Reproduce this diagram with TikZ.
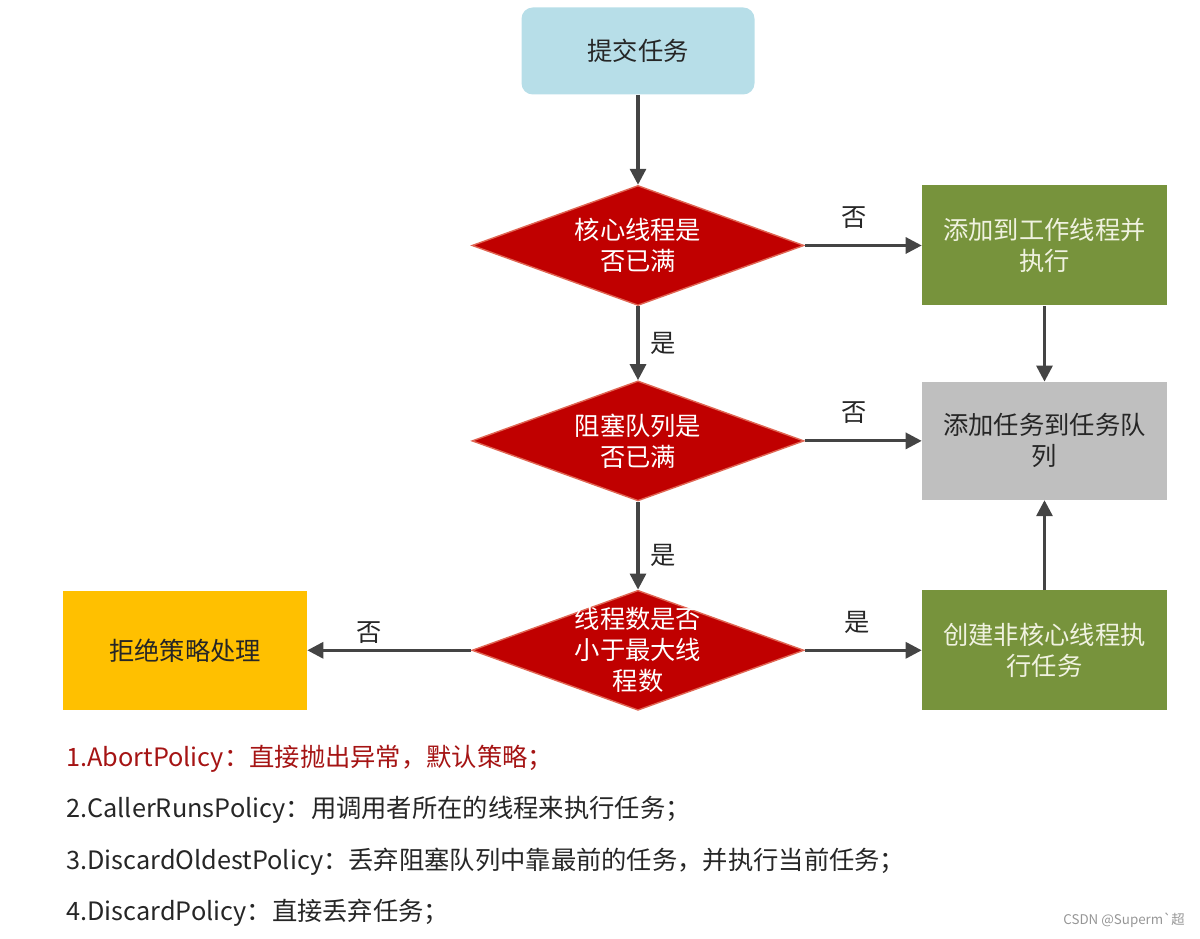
\documentclass[tikz,border=0pt]{standalone}
\usepackage{fontspec}
\setmainfont{Noto Sans CJK SC}
\newfontfamily\markfont[Ligatures=TeXOff]{Noto Sans CJK SC}
\usetikzlibrary{positioning,arrows.meta,shapes.geometric}
\definecolor{StartBlue}{RGB}{183,222,232}
\definecolor{DecisionRed}{RGB}{192,0,0}
\definecolor{DecisionEdge}{RGB}{224,102,84}
\definecolor{WorkGreen}{RGB}{119,147,60}
\definecolor{QueueGray}{RGB}{191,191,191}
\definecolor{RejectYellow}{RGB}{255,192,0}
\definecolor{ArrowGray}{RGB}{68,68,68}
\definecolor{TextDark}{RGB}{38,38,38}
\definecolor{CreamText}{RGB}{240,242,224}
\definecolor{AbortRed}{RGB}{165,20,20}
\definecolor{MarkGray}{RGB}{150,150,150}

\begin{document}
\begin{tikzpicture}[
  font=\fontsize{18}{22}\selectfont,
  node distance=2.25cm,
  startbox/.style={fill=StartBlue, rounded corners=8pt, minimum width=5.825cm, minimum height=2.175cm, align=center, text=TextDark},
  decision/.style={diamond, fill=DecisionRed, draw=DecisionEdge, line width=1pt, inner sep=0pt, minimum width=8.3cm, minimum height=3cm,
    label={[text=white, align=center, font=\fontsize{18}{22}\selectfont]center:#1}},
  workbox/.style={fill=WorkGreen, minimum width=6.125cm, minimum height=3cm, align=center, text=CreamText},
  queuebox/.style={fill=QueueGray, minimum width=6.125cm, minimum height=2.95cm, align=center, text=TextDark},
  rejectbox/.style={fill=RejectYellow, minimum width=6.1cm, minimum height=2.975cm, align=center, text=TextDark},
  answer/.style={text=TextDark, inner sep=2pt},
  policy/.style={anchor=west, font=\fontsize{18}{22}\selectfont, text=TextDark, inner sep=0pt},
  arrow/.style={-{Triangle[length=4mm, width=4mm]}, line width=2.2pt, color=ArrowGray}
]
\useasboundingbox (0,0) rectangle (30,-23.475);

\node[startbox] (submit) at (15.95,-1.275) {提交任务};
\node[decision={核心线程是\\否已满}, below=2.25cm of submit] (core) {};
\node[decision={阻塞队列是\\否已满}, below=1.85cm of core] (queue) {};
\node[decision={线程数是否\\小于最大线\\程数}, below=2.2cm of queue] (max) {};
\node[workbox, right=2.925cm of core] (addworker) {添加到工作线程并\\执行};
\node[queuebox, right=2.925cm of queue] (addqueue) {添加任务到任务队\\列};
\node[workbox, right=2.925cm of max] (newworker) {创建非核心线程执\\行任务};
\node[rejectbox, left=4.1cm of max] (reject) {拒绝策略处理};

\draw[arrow] (submit) -- (core);
\draw[arrow] (core) -- node[answer, pos=0.42, above=9pt] (no1) {否} (addworker);
\draw[arrow] (core) -- node[answer, right=6pt] (yes1) {是} (queue);
\draw[arrow] (addworker) -- (addqueue);
\draw[arrow] (queue) -- node[answer, pos=0.42, above=9pt] (no2) {否} (addqueue);
\draw[arrow] (queue) -- node[answer, pos=0.61, right=6pt] (yes2) {是} (max);
\draw[arrow] (max) -- node[answer, pos=0.45, above=9pt] (yes3) {是} (newworker);
\draw[arrow] (newworker) -- (addqueue);
\draw[arrow] (max) -- node[answer, pos=0.62, above=2pt] (no3) {否} (reject);

\node[policy, text=AbortRed] (abort) at (1.65,-18.975) {1.AbortPolicy：直接抛出异常，默认策略；};
\node[policy] (caller) at (1.65,-20.25) {2.CallerRunsPolicy：用调用者所在的线程来执行任务；};
\node[policy] (oldest) at (1.65,-21.55) {3.DiscardOldestPolicy：丢弃阻塞队列中靠最前的任务，并执行当前任务；};
\node[policy] (discard) at (1.65,-22.825) {4.DiscardPolicy：直接丢弃任务；};

\node[anchor=east, font=\markfont\fontsize{9.5}{11}\selectfont, text=MarkGray, inner sep=0pt] (mark) at (29.625,-23.0) {CSDN @Superm`超};
\end{tikzpicture}
\end{document}
